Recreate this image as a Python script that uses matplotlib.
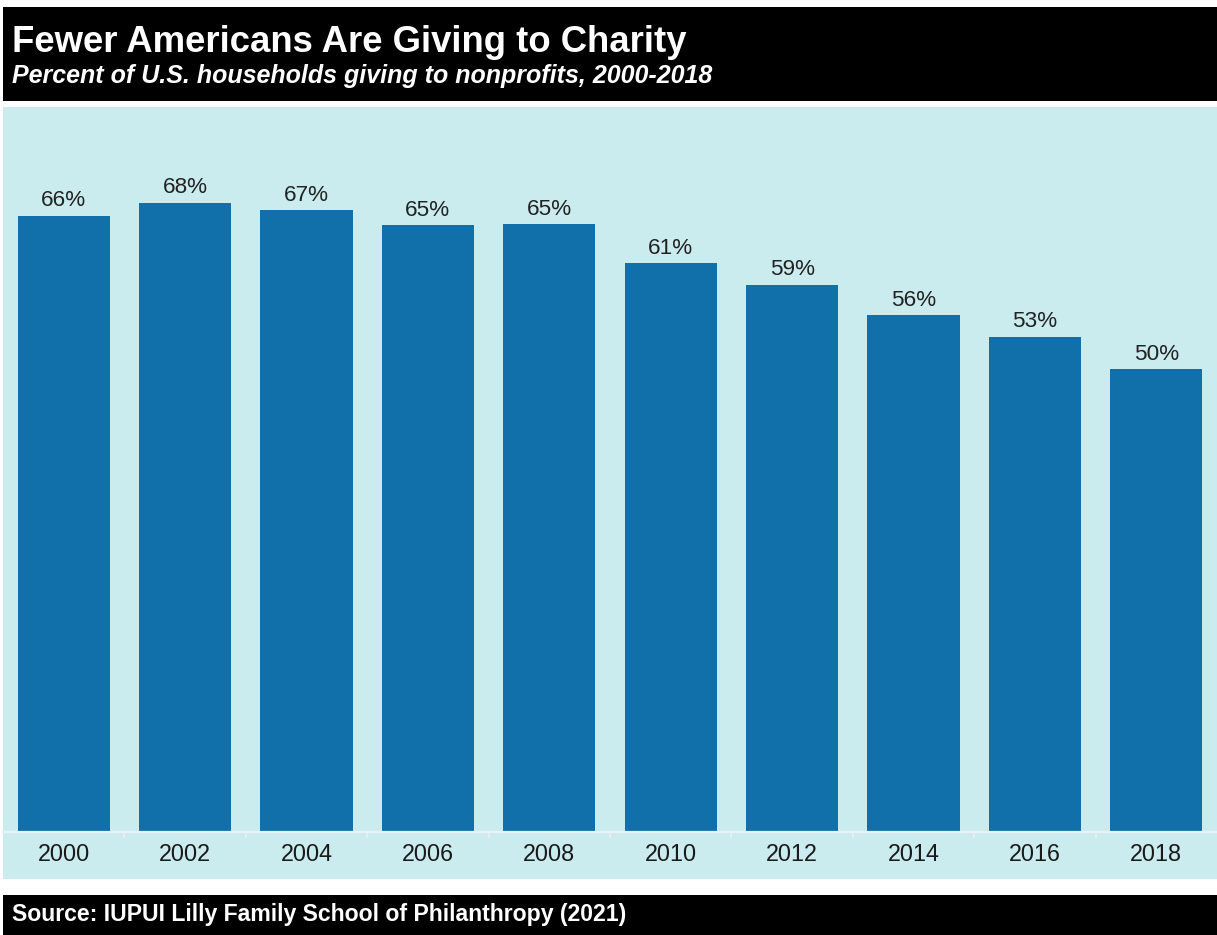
import matplotlib
matplotlib.use("Agg")
import matplotlib.pyplot as plt
from matplotlib.patches import Rectangle

# ---- data ----
years = ["2000", "2002", "2004", "2006", "2008", "2010", "2012", "2014", "2016", "2018"]
pct_giving = [66.3, 67.7, 66.9, 65.3, 65.4, 61.2, 58.9, 55.6, 53.3, 49.8]
title = "Fewer Americans Are Giving to Charity"
subtitle = "Percent of U.S. households giving to nonprofits, 2000-2018"
source = "Source: IUPUI Lilly Family School of Philanthropy (2021)"

# ---- style ----
plt.rcParams['font.family'] = ['Liberation Sans', 'DejaVu Sans']
BAR = "#1170AA"
BG = "#CBECEF"
AXIS = "#E9F1F2"

W, H = 1217, 935
fig = plt.figure(figsize=(W / 100, H / 100), dpi=100)
fig.patch.set_facecolor("white")


def box(x0, y0, x1, y1, color, z=0):
    r = Rectangle((x0 / W, 1 - y1 / H), (x1 - x0) / W, (y1 - y0) / H,
                  transform=fig.transFigure, facecolor=color, edgecolor="none", zorder=z)
    fig.add_artist(r)


# header, panel, footer blocks
box(3, 7, 1217, 101, "black")
box(3, 107, 1217, 879, BG)
box(3, 895, 1217, 935, "black")

fig.text(12 / W, 1 - 52 / H, title, color="white", fontsize=26.3, fontweight="bold",
         ha="left", va="baseline")
fig.text(12 / W, 1 - 83 / H, subtitle, color="white", fontsize=18, fontweight="bold",
         fontstyle="italic", ha="left", va="baseline")
fig.text(12 / W, 1 - 921 / H, source, color="white", fontsize=16.6, fontweight="bold",
         ha="left", va="baseline")

# plot axes
ax_l, ax_r, ax_t, ax_b = 3, 1217, 107, 832
ax = fig.add_axes([ax_l / W, 1 - ax_b / H, (ax_r - ax_l) / W, (ax_b - ax_t) / H])
ax.set_facecolor(BG)
x = list(range(len(years)))
ax.bar(x, pct_giving, width=0.76, color=BAR, zorder=2)
ax.set_xlim(-0.5, len(years) - 0.5)
ax.set_ylim(0, (ax_b - ax_t) / 9.29)

for xi, v in zip(x, pct_giving):
    ax.annotate(f"{v:.0f}%", (xi, v), xytext=(0, 7), textcoords="offset points",
                ha="center", va="baseline", fontsize=16.2, color="#222222")

for s in ["top", "left", "right"]:
    ax.spines[s].set_visible(False)
ax.spines["bottom"].set_color(AXIS)
ax.spines["bottom"].set_linewidth(1.6)
ax.set_yticks([])
ax.set_xticks(x)
ax.set_xticklabels(years, fontsize=16.8, color="#1a1a1a")
ax.tick_params(axis="x", which="major", length=0, pad=8)
ax.set_xticks([i + 0.5 for i in x[:-1]], minor=True)
ax.tick_params(axis="x", which="minor", length=4, width=1.2, color=AXIS)

fig.savefig("out.png", dpi=100)
